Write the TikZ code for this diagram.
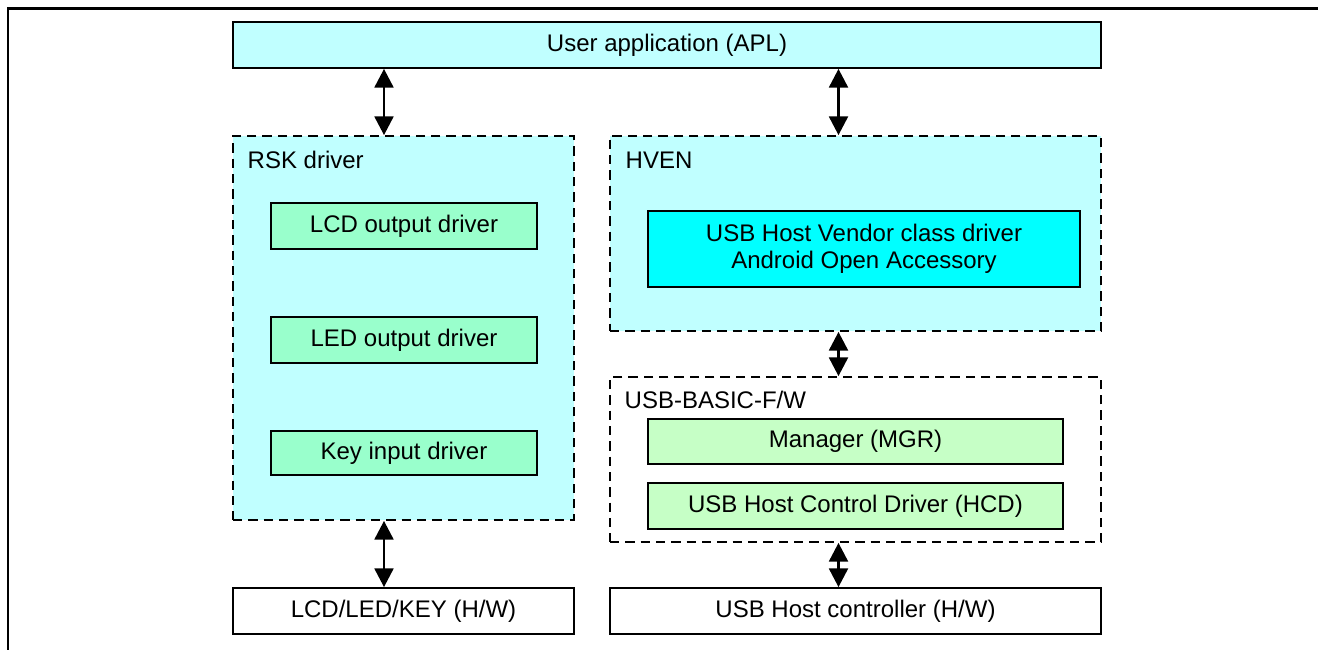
\documentclass[tikz,border=0pt]{standalone}
\usepackage{fontspec}
\setmainfont{Liberation Sans}
\usetikzlibrary{arrows.meta}

\definecolor{paleblue}{HTML}{C0FFFF}
\definecolor{mint}{HTML}{99FFCC}
\definecolor{palegreen}{HTML}{C6FFC6}
\definecolor{aqua}{HTML}{00FFFF}

\tikzset{
    blk/.style={draw, line width=1.3pt, inner sep=0pt, align=center},
    layer/.style={draw, line width=1.3pt, inner sep=0pt, dash pattern=on 7pt off 4.5pt},
    size/.style 2 args={minimum width=#1, minimum height=#2},
    link/.style={line width=2.2pt, {Triangle[length=14pt,width=14pt]}-{Triangle[length=14pt,width=14pt]}},
}

\begin{document}
\begin{tikzpicture}[x=0.75pt, y=-0.75pt, font=\fontsize{18}{20}\selectfont]
    \useasboundingbox (0,0) rectangle (1318,650);
    \draw[line width=2pt] (1318,8.5) -- (8,8.5) -- (8,650);

    % top layer
    \node[blk, fill=paleblue, size={651pt}{34.5pt}] (apl) at (667,45) {User application (APL)};

    % driver groups
    \node[layer, fill=paleblue, size={255.75pt}{288pt}] (rsk) at (403.5,328) {};
    \node[layer, fill=paleblue, size={368.25pt}{146.25pt}] (hven) at (855.5,233.5) {};
    \node[layer, fill=white, size={368.25pt}{123.75pt}] (basic) at (855.5,459.5) {};
    \node[anchor=west] (rsklbl) at (243,160) {RSK driver};
    \node[anchor=west] (hvenlbl) at (621,160) {HVEN};
    \node[anchor=west] (basiclbl) at (620,400) {USB-BASIC-F/W};

    \node[blk, fill=mint, size={199.5pt}{34.5pt}] (lcd) at (404,226) {LCD output driver};
    \node[blk, fill=mint, size={199.5pt}{34.5pt}] (led) at (404,340) {LED output driver};
    \node[blk, fill=mint, size={199.5pt}{33pt}] (key) at (404,453) {Key input driver};

    \node[blk, fill=aqua, size={324pt}{57pt}] (vendor) at (864,249)
        {USB Host Vendor class driver\\Android Open Accessory};
    \node[blk, fill=palegreen, size={311.25pt}{33.75pt}] (mgr) at (855.5,441.5) {Manager (MGR)};
    \node[blk, fill=palegreen, size={311.25pt}{34.5pt}] (hcd) at (855.5,506) {USB Host Control Driver (HCD)};

    % hardware
    \node[blk, fill=white, size={255.75pt}{34.5pt}] (keyhw) at (403.5,611) {LCD/LED/KEY (H/W)};
    \node[blk, fill=white, size={368.25pt}{34.5pt}] (usbhw) at (855.5,611) {USB Host controller (H/W)};

    % arrows
    \coordinate (lx) at (384,0);
    \coordinate (rx) at (838.5,0);
    \draw[link] (apl.south -| lx) -- (rsk.north -| lx);
    \draw[link] (apl.south -| rx) -- (hven.north -| rx);
    \draw[link] (hven.south -| rx) -- (basic.north -| rx);
    \draw[link] (rsk.south -| lx) -- (keyhw.north -| lx);
    \draw[link] (basic.south -| rx) -- (usbhw.north -| rx);
\end{tikzpicture}
\end{document}
